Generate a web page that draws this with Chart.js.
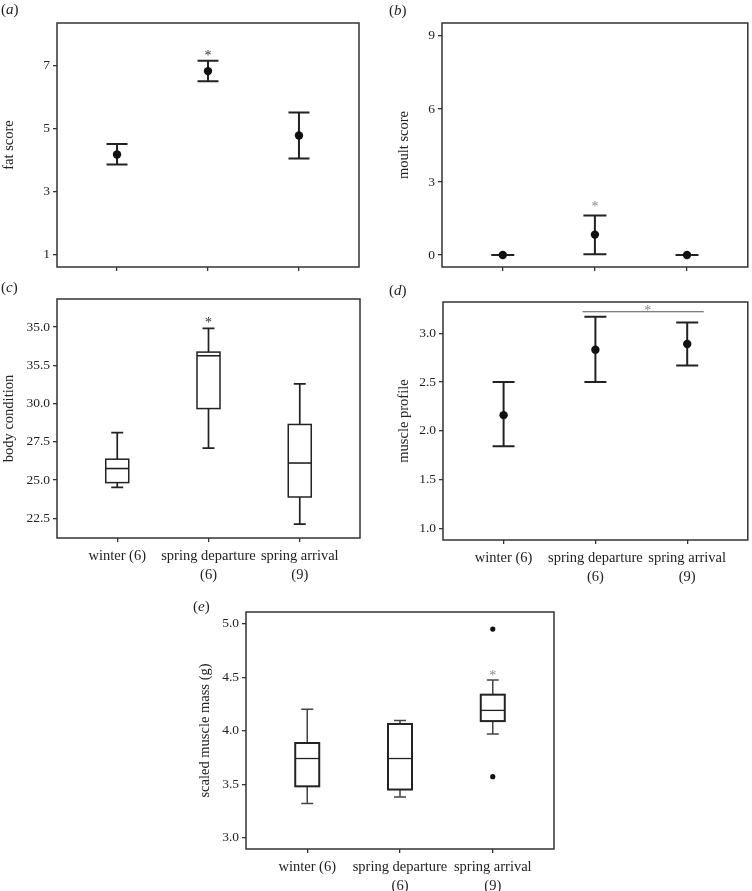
<!DOCTYPE html>
<html>
<head>
<meta charset="utf-8">
<script src="https://cdn.jsdelivr.net/npm/chart.js@4.4.1/dist/chart.umd.min.js"></script>
<style>
  body { margin: 0; background: #fff; width: 752px; height: 891px; position: relative; overflow: hidden; font-family: "Liberation Serif", serif; }
  canvas { position: absolute; }
  .tag { position: absolute; font-size: 15px; color: #222; line-height: 1; }
</style>
</head>
<body>
<canvas id="chartA" width="376" height="280" style="left:0;top:0"></canvas>
<canvas id="chartB" width="376" height="280" style="left:376px;top:0"></canvas>
<canvas id="chartC" width="376" height="310" style="left:0;top:280px"></canvas>
<canvas id="chartD" width="376" height="310" style="left:376px;top:280px"></canvas>
<canvas id="chartE" width="450" height="311" style="left:150px;top:580px"></canvas>
<div class="tag" style="left:1px;top:2px">(<i>a</i>)</div>
<div class="tag" style="left:389px;top:3px">(<i>b</i>)</div>
<div class="tag" style="left:1px;top:280px">(<i>c</i>)</div>
<div class="tag" style="left:389px;top:283px">(<i>d</i>)</div>
<div class="tag" style="left:193px;top:599px">(<i>e</i>)</div>
<script>
// groups on the x axis
const groups = ['winter (6)', ['spring departure', '(6)'], ['spring arrival', '(9)']];

// (a) fat score, mean with error bars
const fatMean = [4.18, 6.83, 4.78];
const fatLow = [3.86, 6.51, 4.05];
const fatHigh = [4.51, 7.16, 5.51];
const fatTicks = [1, 3, 5, 7];

// (b) moult score
const moultMean = [0, 0.84, 0];
const moultLow = [0, 0.03, 0];
const moultHigh = [0, 1.63, 0];
const moultTicks = [0, 3, 6, 9];

// (c) body condition, box plots
const condMin = [24.52, 27.09, 22.12];
const condQ1 = [24.83, 29.67, 23.89];
const condMed = [25.75, 33.12, 26.11];
const condQ3 = [26.36, 33.36, 28.63];
const condMax = [28.1, 34.91, 31.28];
const condTicks = [22.5, 25, 27.5, 30, 32.5, 35];
const condTickLabels = ['22.5', '25.0', '27.5', '30.0', '35.5', '35.0'];

// (d) muscle profile
const muscleMean = [2.16, 2.83, 2.89];
const muscleLow = [1.84, 2.50, 2.67];
const muscleHigh = [2.50, 3.17, 3.11];
const muscleTicks = [1.0, 1.5, 2.0, 2.5, 3.0];

// (e) scaled muscle mass, box plots
const massMin = [3.32, 3.38, 3.97];
const massQ1 = [3.48, 3.45, 4.09];
const massMed = [3.74, 3.74, 4.19];
const massQ3 = [3.885, 4.063, 4.337];
const massMax = [4.20, 4.096, 4.475];
const massOutGroup = [2, 2];
const massOutValue = [4.95, 3.57];
const massTicks = [3.0, 3.5, 4.0, 4.5, 5.0];

const ink = '#222';
const serif = '"Liberation Serif", serif';

// draws frame, error bars, boxes and the asterisks
const extras = {
  id: 'extras',
  beforeDatasetsDraw(chart, args, opts) {
    const ctx = chart.ctx;
    const xs = chart.scales.x, ys = chart.scales.y;
    ctx.save();
    ctx.strokeStyle = ink;
    if (opts.bars) {
      const b = opts.bars;
      ctx.lineWidth = 2;
      b.low.forEach((lo, i) => {
        const x = xs.getPixelForValue(i);
        const y1 = ys.getPixelForValue(lo), y2 = ys.getPixelForValue(b.high[i]);
        ctx.beginPath();
        ctx.moveTo(x, y1); ctx.lineTo(x, y2);
        ctx.moveTo(x - b.cap / 2, y1); ctx.lineTo(x + b.cap / 2, y1);
        ctx.moveTo(x - b.cap / 2, y2); ctx.lineTo(x + b.cap / 2, y2);
        ctx.stroke();
      });
    }
    if (opts.boxes) {
      const b = opts.boxes;
      b.med.forEach((m, i) => {
        const x = xs.getPixelForValue(i);
        const p = v => ys.getPixelForValue(v);
        ctx.strokeStyle = b.whiskerColor;
        ctx.lineWidth = b.whiskerWidth;
        ctx.beginPath();
        ctx.moveTo(x, p(b.max[i])); ctx.lineTo(x, p(b.q3[i]));
        ctx.moveTo(x, p(b.q1[i])); ctx.lineTo(x, p(b.min[i]));
        ctx.moveTo(x - b.cap / 2, p(b.max[i])); ctx.lineTo(x + b.cap / 2, p(b.max[i]));
        ctx.moveTo(x - b.cap / 2, p(b.min[i])); ctx.lineTo(x + b.cap / 2, p(b.min[i]));
        ctx.stroke();
        ctx.strokeStyle = ink;
        ctx.lineWidth = b.boxLine;
        ctx.strokeRect(x - b.width / 2, p(b.q3[i]), b.width, p(b.q1[i]) - p(b.q3[i]));
        ctx.lineWidth = b.medWidth;
        ctx.beginPath();
        ctx.moveTo(x - b.width / 2, p(m)); ctx.lineTo(x + b.width / 2, p(m));
        ctx.stroke();
      });
    }
    if (opts.sigLine) {
      const s = opts.sigLine;
      ctx.lineWidth = 1;
      ctx.strokeStyle = '#555';
      ctx.beginPath();
      ctx.moveTo(xs.getPixelForValue(s.from), ys.getPixelForValue(s.y));
      ctx.lineTo(xs.getPixelForValue(s.to), ys.getPixelForValue(s.y));
      ctx.stroke();
    }
    ctx.restore();
  },
  afterDraw(chart, args, opts) {
    const ctx = chart.ctx;
    const a = chart.chartArea;
    ctx.save();
    ctx.strokeStyle = '#333';
    ctx.lineWidth = 1.5;
    ctx.strokeRect(a.left, a.top, a.right - a.left, a.bottom - a.top);
    if (opts.star) {
      ctx.fillStyle = opts.star.color;
      ctx.font = '14px ' + serif;
      ctx.textAlign = 'center';
      ctx.textBaseline = 'middle';
      ctx.fillText('*', chart.scales.x.getPixelForValue(opts.star.x), chart.scales.y.getPixelForValue(opts.star.y) + 3);
    }
    ctx.restore();
  }
};

function makeChart(id, cfg) {
  const points = [];
  if (cfg.mean) {
    points.push({
      type: 'scatter',
      data: cfg.mean.map((m, i) => ({ x: i, y: m })),
      pointRadius: 4.2,
      pointBackgroundColor: '#111',
      pointBorderWidth: 0
    });
  }
  if (cfg.outliers) {
    points.push({
      type: 'scatter',
      data: cfg.outliers.group.map((g, i) => ({ x: g, y: cfg.outliers.value[i] })),
      pointRadius: 2.6,
      pointBackgroundColor: '#111',
      pointBorderWidth: 0
    });
  }
  return new Chart(document.getElementById(id), {
    type: 'scatter',
    data: { datasets: points },
    options: {
      responsive: false,
      animation: false,
      devicePixelRatio: 1,
      layout: { padding: cfg.pad },
      plugins: {
        legend: { display: false },
        tooltip: { enabled: false },
        extras: cfg.extras
      },
      scales: {
        x: {
          type: 'linear',
          min: -0.66,
          max: 2.66,
          border: { display: false },
          grid: { drawOnChartArea: false, drawTicks: true, tickLength: 4, color: '#333', lineWidth: 1.3 },
          afterBuildTicks: s => { s.ticks = [0, 1, 2].map(v => ({ value: v })); },
          afterFit: s => { s.height = cfg.xHeight; },
          ticks: {
            autoSkip: false,
            maxRotation: 0,
            padding: 5,
            color: ink,
            font: { family: serif, size: 14.5, lineHeight: 1.28 },
            callback: v => cfg.showLabels ? groups[v] : ''
          }
        },
        y: {
          min: cfg.yMin,
          max: cfg.yMax,
          border: { display: false },
          grid: { drawOnChartArea: false, drawTicks: true, tickLength: 4, color: '#333', lineWidth: 1.3 },
          afterBuildTicks: s => { s.ticks = cfg.yTicks.map(v => ({ value: v })); },
          afterFit: s => { s.width = cfg.yWidth; },
          title: {
            display: true,
            text: cfg.title,
            color: ink,
            font: { family: serif, size: 14.5 },
            padding: { top: cfg.titlePad, bottom: 0 }
          },
          ticks: {
            padding: 3,
            color: ink,
            font: { family: serif, size: 13.5 },
            callback: (v, i) => cfg.yLabels ? cfg.yLabels[i] : (cfg.yDec ? v.toFixed(1) : String(v))
          }
        }
      }
    },
    plugins: [extras]
  });
}

makeChart('chartA', {
  mean: fatMean, title: 'fat score', yMin: 0.6, yMax: 8.36, yTicks: fatTicks,
  pad: { left: 0, right: 17, top: 23, bottom: 0 }, yWidth: 57, xHeight: 13, titlePad: 0,
  extras: { bars: { low: fatLow, high: fatHigh, cap: 21 }, star: { x: 1, y: 7.41, color: '#333' } }
});

makeChart('chartB', {
  mean: moultMean, title: 'moult score', yMin: -0.49, yMax: 9.53, yTicks: moultTicks,
  pad: { left: 19, right: 4, top: 23, bottom: 0 }, yWidth: 47, xHeight: 13, titlePad: 0,
  extras: { bars: { low: moultLow, high: moultHigh, cap: 23 }, star: { x: 1, y: 2.08, color: '#888' } }
});

makeChart('chartC', {
  title: 'body condition', yMin: 21.21, yMax: 36.83, yTicks: condTicks, yLabels: condTickLabels,
  pad: { left: 0, right: 16, top: 19, bottom: 0 }, yWidth: 57, xHeight: 52, titlePad: 0, showLabels: true,
  extras: {
    boxes: { min: condMin, q1: condQ1, med: condMed, q3: condQ3, max: condMax, width: 23, cap: 12,
             boxLine: 1.5, medWidth: 1.6, whiskerWidth: 1.7, whiskerColor: '#222' },
    star: { x: 1, y: 35.45, color: '#333' }
  }
});

makeChart('chartD', {
  mean: muscleMean, title: 'muscle profile', yMin: 0.88, yMax: 3.32, yTicks: muscleTicks, yDec: true,
  pad: { left: 19, right: 4, top: 22, bottom: 0 }, yWidth: 48, xHeight: 50, titlePad: 0, showLabels: true,
  extras: {
    bars: { low: muscleLow, high: muscleHigh, cap: 22 },
    sigLine: { from: 0.86, to: 2.18, y: 3.22 },
    star: { x: 1.57, y: 3.26, color: '#888' }
  }
});

makeChart('chartE', {
  title: 'scaled muscle mass (g)', yMin: 2.894, yMax: 5.11, yTicks: massTicks, yDec: true,
  outliers: { group: massOutGroup, value: massOutValue },
  pad: { left: 46, right: 46, top: 32, bottom: 0 }, yWidth: 50, xHeight: 42, titlePad: 0, showLabels: true,
  extras: {
    boxes: { min: massMin, q1: massQ1, med: massMed, q3: massQ3, max: massMax, width: 24, cap: 12,
             boxLine: 2, medWidth: 1.3, whiskerWidth: 1.5, whiskerColor: '#444' },
    star: { x: 2, y: 4.54, color: '#888' }
  }
});
</script>
</body>
</html>
